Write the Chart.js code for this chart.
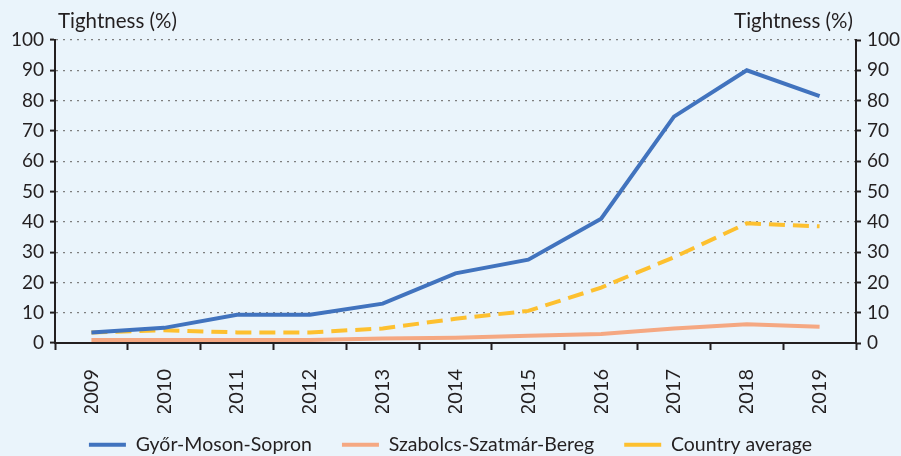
<!DOCTYPE html>
<html>
<head>
<meta charset="utf-8">
<script src="https://cdn.jsdelivr.net/npm/chart.js@4/dist/chart.umd.min.js"></script>
<style>
  html, body { margin: 0; padding: 0; background: #EAF4FB; }
  #wrap { width: 901px; height: 456px; position: relative; }
</style>
</head>
<body>
<div id="wrap"><canvas id="c" width="901" height="456"></canvas></div>
<script>
const years = ['2009','2010','2011','2012','2013','2014','2015','2016','2017','2018','2019'];
const gyor = [3.5, 5, 9.3, 9.3, 13, 23, 27.5, 41, 74.7, 90, 81.5];
const szabolcs = [1, 1, 1, 1, 1.5, 1.7, 2.4, 3, 4.8, 6.2, 5.4];
const country = [3.5, 4.2, 3.5, 3.5, 4.8, 8, 10.6, 18.3, 28.3, 39.5, 38.5];
const seriesNames = ['Győr-Moson-Sopron', 'Szabolcs-Szatmár-Bereg', 'Country average'];
const axisTitle = 'Tightness (%)';

const FONT = 'Lato, "Open Sans", sans-serif';
const textColor = '#231F20';

const bgPlugin = {
  id: 'bg',
  beforeDraw(chart) {
    const ctx = chart.ctx;
    ctx.save();
    ctx.fillStyle = '#EAF4FB';
    ctx.fillRect(0, 0, chart.width, chart.height);
    ctx.restore();
  }
};
const legendPlace = {
  id: 'legendPlace',
  afterInit(chart) {
    const lg = chart.legend;
    if (!lg) return;
    const f = lg.fit;
    lg.fit = function () { f.call(this); this.height = 43; };
  },
  afterLayout(chart) {
    const lg = chart.legend;
    if (!lg) return;
    lg.top = 405;
    lg.bottom = chart.height;
  }
};
const titlePlugin = {
  id: 'ytitles',
  afterDraw(chart) {
    const ctx = chart.ctx;
    const a = chart.chartArea;
    ctx.save();
    ctx.font = '20.5px ' + FONT;
    ctx.fillStyle = textColor;
    ctx.textBaseline = 'middle';
    ctx.textAlign = 'left';
    ctx.fillText(axisTitle, a.left + 3, 21);
    ctx.textAlign = 'right';
    ctx.fillText(axisTitle, a.right - 3, 21);
    ctx.restore();
  }
};

new Chart(document.getElementById('c'), {
  type: 'line',
  data: {
    labels: years,
    datasets: [
      { label: seriesNames[0], data: gyor, borderColor: '#4173BE', backgroundColor: '#4173BE', borderWidth: 4, pointRadius: 0, tension: 0, yAxisID: 'y' },
      { label: seriesNames[1], data: szabolcs, borderColor: '#F5A882', backgroundColor: '#F5A882', borderWidth: 4, pointRadius: 0, tension: 0, yAxisID: 'y' },
      { label: seriesNames[2], data: country, borderColor: '#FDC02F', backgroundColor: '#FDC02F', borderWidth: 4, borderDash: [16, 8], pointRadius: 0, tension: 0, yAxisID: 'y' }
    ]
  },
  options: {
    responsive: false,
    animation: false,
    layout: { padding: { top: 40, left: 0, right: 0, bottom: 0 } },
    plugins: {
      tooltip: { enabled: false },
      legend: {
        position: 'bottom',
        labels: {
          usePointStyle: true,
          pointStyleWidth: 37,
          pointStyle: 'line',
          boxHeight: 19,
          padding: 30,
          color: textColor,
          font: { family: FONT, size: 19.5 }
        }
      }
    },
    scales: {
      x: {
        type: 'category',
        offset: true,
        grid: { offset: true, drawOnChartArea: false, drawTicks: true, tickLength: 7, tickWidth: 2, tickColor: '#231F20' },
        border: { display: true, color: '#231F20', width: 2 },
        ticks: { color: textColor, font: { family: FONT, size: 20 }, minRotation: 90, maxRotation: 90, padding: 19 },
        afterFit(s) { s.height = 70; }
      },
      y: {
        position: 'left',
        min: 0, max: 100,
        ticks: { stepSize: 10, color: textColor, font: { family: FONT, size: 19 }, padding: 6 },
        grid: { color: '#7F7F7F', lineWidth: 1.2, borderDash: [2, 5], tickColor: '#231F20', tickWidth: 2, tickLength: 5, tickBorderDash: [0, 0], drawTicks: true },
        border: { display: true, color: '#231F20', width: 2, dash: [2, 5] },
        afterFit(s) { s.width = 55; }
      },
      y2: {
        position: 'right',
        min: 0, max: 100,
        ticks: { stepSize: 10, color: textColor, font: { family: FONT, size: 19 }, padding: 6 },
        grid: { drawOnChartArea: false, tickColor: '#231F20', tickWidth: 2, tickLength: 5 },
        border: { display: true, color: '#231F20', width: 2 },
        afterFit(s) { s.width = 45; }
      }
    }
  },
  plugins: [bgPlugin, legendPlace, titlePlugin]
});
</script>
</body>
</html>
